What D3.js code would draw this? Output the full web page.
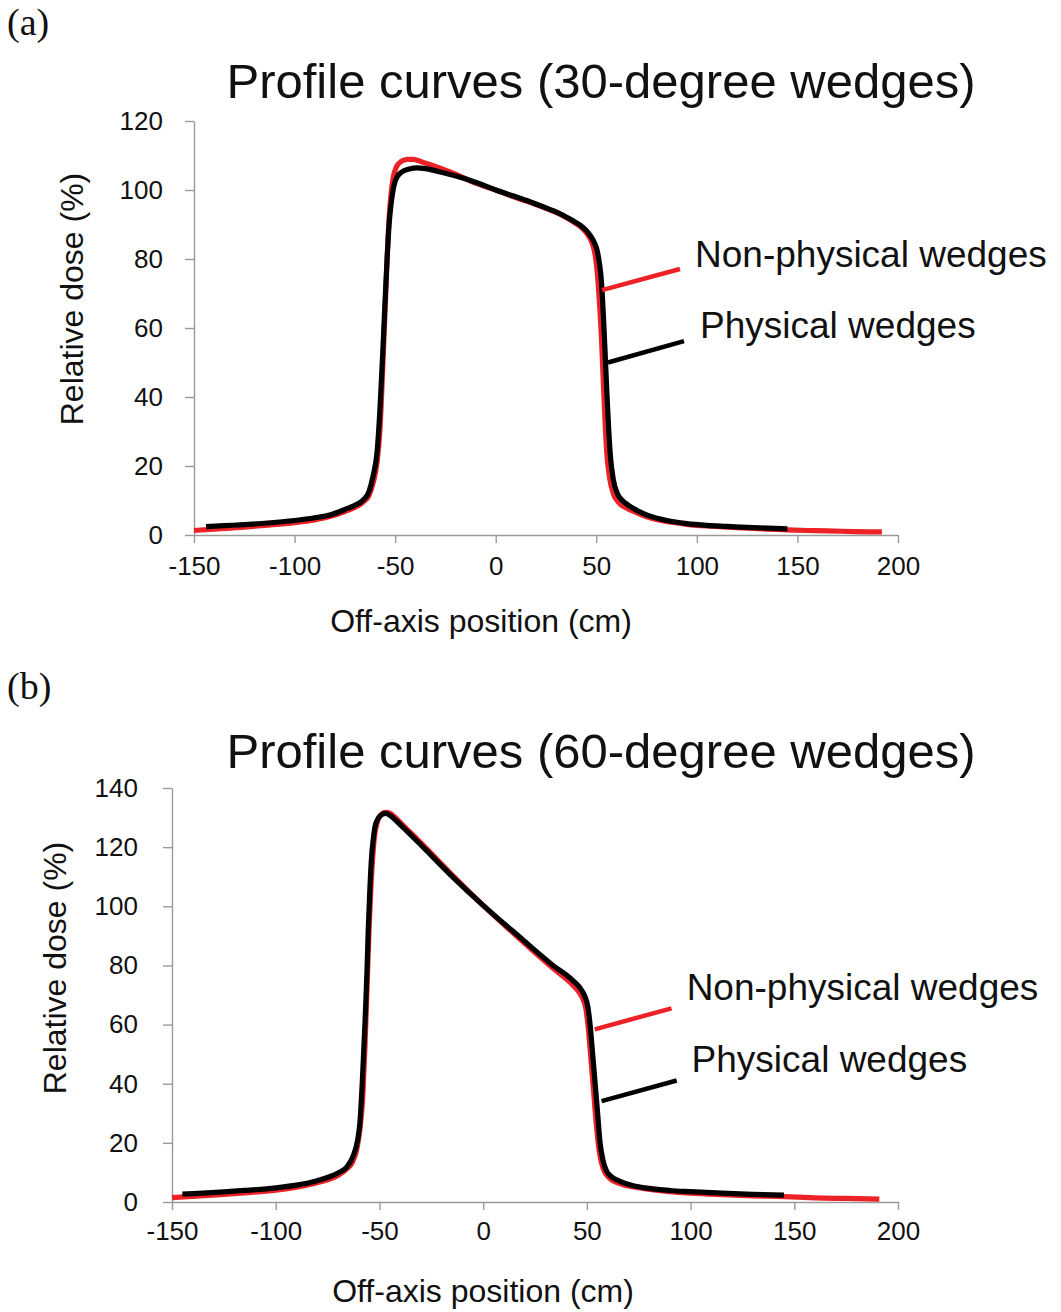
<!DOCTYPE html>
<html>
<head>
<meta charset="utf-8">
<script src="https://cdn.jsdelivr.net/npm/d3@7"></script>
<style>
  body { margin: 0; background: #fff; }
  svg { display: block; }
  text { font-family: "Liberation Sans", Arial, sans-serif; fill: #111; }
</style>
</head>
<body>
<svg id="chart" width="1061" height="1312"></svg>
<script>
// ---------- data ----------
const xTicks = [-150, -100, -50, 0, 50, 100, 150, 200];
const yTicksA = [0, 20, 40, 60, 80, 100, 120];
const yTicksB = [0, 20, 40, 60, 80, 100, 120, 140];
const seriesNames = ["Non-physical wedges", "Physical wedges"];

// (a) 30-degree wedges
const nonPhys30X = [-150,-140,-125,-115,-100,-90,-82,-75,-70,-66,-63,-61,-59,-57.5,-56.2,-55,-54,-53,-52,-51,-49.5,-47,-44,-41,-37,-30,-20,-10,0,10,20,30,38,43,46,48,49.5,50.5,51.5,52.5,53.3,54.2,55.2,56.5,58.5,61,65,70,76,85,95,105,115,125,135,145,155,165,178,192];
const nonPhys30Y = [1.3,1.7,2.3,2.8,3.6,4.4,5.4,6.8,8.0,9.5,11.5,15,21,31,48,65,80,92,99,103.5,106.5,108.3,108.9,108.9,108.2,106.8,104.6,102.0,100,97.8,95.8,93.5,91.0,88.9,86.8,84.5,81.0,76,68,58,47,35,24,17,12,9.5,7.8,6.5,5.1,3.9,3.1,2.6,2.3,2.0,1.7,1.5,1.3,1.2,1.0,0.9];
const phys30X = [-144,-135,-125,-115,-100,-90,-82,-75,-70,-66,-63,-61,-59,-57.5,-56,-55,-54,-53,-52,-50.5,-49,-46.5,-43,-39,-35,-28,-16,-8,0,8,17,25,33.5,38,42,45,47,49,50.5,51.5,52.5,53.5,54.3,55.2,56,57,58.5,60.5,63,66,70,76,85,95,105,115,125,135,145];
const phys30Y = [2.4,2.7,3.0,3.4,4.2,5.0,5.9,7.4,8.6,10.1,12.6,17,24,37,55,68,80,90,96,101.5,103.8,105.3,106.1,106.4,106.2,105.3,103.4,101.8,100,98.4,96.6,94.8,92.7,91.2,89.8,88.3,86.8,84.8,82.3,79,74,64,54,42,32.5,23,16,12,10,8.6,7.2,5.6,4.2,3.3,2.8,2.5,2.2,2.0,1.8];

// (b) 60-degree wedges
const nonPhys60X = [-150,-140,-125,-115,-100,-90,-82,-75,-70,-66,-63,-61,-59.5,-58,-57,-56,-55,-54.2,-53.3,-52.4,-51.2,-49.5,-47,-45,-42,-38.6,-30.5,-14.5,0,17.6,33.7,43.3,47.5,49.5,50.8,52,53.3,54.6,56,58,61,66,75,90,100,115,130,145,160,175,191];
const nonPhys60Y = [1.5,1.9,2.6,3.1,4.0,5.0,6.2,7.5,9.0,11.0,13.5,17.5,24,36,52,72,92,105,116,123.5,128,130.8,131.8,131.5,129.8,127.4,121.8,110.3,100.3,89.0,79.0,73.3,69.5,65.5,58,48,37,26,17,11,8.0,6.2,4.8,3.5,3.0,2.5,2.1,1.8,1.4,1.2,1.0];
const phys60X = [-145,-135,-125,-115,-100,-90,-80,-70,-66,-62.7,-60.5,-59.4,-58.3,-57,-56,-55.4,-54.6,-53.8,-53,-52.2,-51,-49.8,-47,-45,-42,-38.6,-30.5,-14.5,0,17.6,33.7,43.3,46.5,49,50.5,51.7,52.8,54,55.2,56.3,57.8,59.5,62,66,72,80,90,100,115,130,145];
const phys60Y = [2.7,3.0,3.4,3.9,4.8,5.7,7.2,9.8,11.6,15.5,21,27,40,60,78,92,106,116.6,122.5,126.7,129.2,130.5,131.4,130.8,129,126.7,121.1,109.8,100.3,89.6,80,74.9,72.6,69.6,66,59,50,40,30,20.5,14,10.5,8.5,7.0,5.6,4.6,3.9,3.5,3.0,2.6,2.3];

// annotation leader lines [x0, y0, x1, y1] and label anchors [x, y] in data units
const leaderA = [[52.8, 71, 91.6, 77.1], [55.8, 50, 93.6, 56.2]];
const labelA = [[99.1, 77.7], [101.6, 57.1]];
const leaderB = [[53.8, 58.4, 90.8, 65.5], [57.1, 34.1, 93.3, 41.1]];
const labelB = [[98.1, 68.2], [100.5, 43.9]];

// ---------- drawing ----------
const svg = d3.select("#chart");
svg.append("rect").attr("width", 1061).attr("height", 1312).attr("fill", "#fff");

const colors = ["#ec2227", "#000000"];
const fmt = d => String(d);

function zip(xs, ys) { return xs.map((x, i) => ({ x, y: ys[i] })); }

function panel(cfg) {
  const x = d3.scaleLinear().domain([-150, 200]).range(cfg.xRange);
  const y = d3.scaleLinear().domain(cfg.yDomain).range(cfg.yRange);
  const g = svg.append("g");

  // axes
  const ax = g.append("g").attr("transform", `translate(0,${cfg.yRange[0]})`)
    .call(d3.axisBottom(x).tickValues(xTicks).tickSize(8).tickSizeOuter(0).tickPadding(cfg.xPad).tickFormat(fmt));
  const ay = g.append("g").attr("transform", `translate(${cfg.xRange[0]},0)`)
    .call(d3.axisLeft(y).tickValues(cfg.yTicks).tickSize(9).tickSizeOuter(0).tickPadding(cfg.yPad).tickFormat(fmt));
  [ax, ay].forEach(a => {
    a.selectAll("path,line").attr("stroke", "#9a9a9a").attr("stroke-width", 1.4);
    a.selectAll("text").style("font-size", "26px").attr("fill", "#111")
      .style("font-family", '"Liberation Sans", Arial, sans-serif');
  });

  // curves
  const line = d3.line().x(d => x(d.x)).y(d => y(d.y)).curve(d3.curveMonotoneX);
  cfg.series.forEach((s, i) => {
    g.append("path").datum(s).attr("d", line).attr("fill", "none")
      .attr("stroke", colors[i]).attr("stroke-width", 5.2)
      .attr("stroke-linejoin", "round").attr("stroke-linecap", "butt");
  });

  // leader lines + labels
  cfg.leaders.forEach((l, i) => {
    g.append("line").attr("x1", x(l[0])).attr("y1", y(l[1])).attr("x2", x(l[2])).attr("y2", y(l[3]))
      .attr("stroke", colors[i]).attr("stroke-width", 4.5);
    g.append("text").attr("x", x(cfg.labels[i][0])).attr("y", y(cfg.labels[i][1]))
      .style("font-size", "37px").text(seriesNames[i]);
  });

  // titles
  g.append("text").attr("x", cfg.titlePos[0]).attr("y", cfg.titlePos[1])
    .attr("text-anchor", "middle").style("font-size", "49px").text(cfg.title);
  g.append("text").attr("x", cfg.xTitlePos[0]).attr("y", cfg.xTitlePos[1])
    .attr("text-anchor", "middle").style("font-size", "32px").text("Off-axis position (cm)");
  g.append("text").attr("transform", `translate(${cfg.yTitlePos[0]},${cfg.yTitlePos[1]}) rotate(-90)`)
    .attr("text-anchor", "middle").attr("dominant-baseline", "central")
    .style("font-size", "32px").text("Relative dose (%)");
  g.append("text").attr("x", 7).attr("y", cfg.tagY)
    .style("font-family", '"Liberation Serif", "Times New Roman", serif').style("font-size", "38px")
    .text(cfg.tag);
}

panel({
  xRange: [194, 898], yDomain: [0, 120], yRange: [535, 121], yTicks: yTicksA,
  xPad: 14, yPad: 22,
  series: [zip(nonPhys30X, nonPhys30Y), zip(phys30X, phys30Y)],
  leaders: leaderA, labels: labelA,
  title: "Profile curves (30-degree wedges)", titlePos: [601, 98],
  xTitlePos: [481, 632], yTitlePos: [72, 299], tag: "(a)", tagY: 35
});

panel({
  xRange: [172, 898], yDomain: [0, 140], yRange: [1202, 788], yTicks: yTicksB,
  xPad: 12, yPad: 25,
  series: [zip(nonPhys60X, nonPhys60Y), zip(phys60X, phys60Y)],
  leaders: leaderB, labels: labelB,
  title: "Profile curves (60-degree wedges)", titlePos: [601, 768],
  xTitlePos: [483, 1302], yTitlePos: [55, 968], tag: "(b)", tagY: 699
});
</script>
</body>
</html>
